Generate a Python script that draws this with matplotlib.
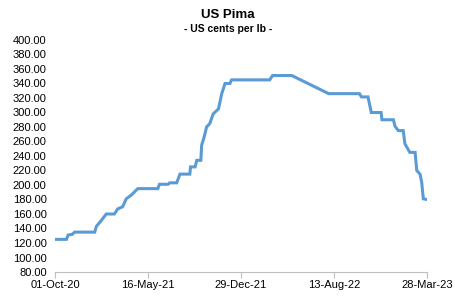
import matplotlib
matplotlib.use("Agg")
import matplotlib.pyplot as plt
import matplotlib.dates as mdates
import pandas as pd

plt.rcParams['font.family'] = ['Liberation Sans', 'DejaVu Sans']

dates = pd.to_datetime([
    "2020-10-01", "2020-10-29", "2020-11-02", "2020-11-12", "2020-11-18",
    "2021-01-06", "2021-01-10", "2021-01-22", "2021-02-03", "2021-02-23",
    "2021-03-03", "2021-03-15", "2021-03-24", "2021-04-05", "2021-04-21",
    "2021-06-09", "2021-06-13", "2021-07-04", "2021-07-08", "2021-07-25",
    "2021-08-02", "2021-08-26", "2021-08-28", "2021-09-08", "2021-09-12",
    "2021-09-22", "2021-09-24", "2021-09-30", "2021-10-06", "2021-10-14",
    "2021-10-22", "2021-11-04", "2021-11-12", "2021-11-20", "2021-12-02",
    "2021-12-06", "2022-03-09", "2022-03-16", "2022-05-02", "2022-07-31",
    "2022-10-14", "2022-10-19", "2022-11-04", "2022-11-12", "2022-12-06",
    "2022-12-08", "2023-01-05", "2023-01-09", "2023-01-17", "2023-01-29",
    "2023-02-02", "2023-02-14", "2023-02-27", "2023-03-03", "2023-03-11",
    "2023-03-15", "2023-03-19", "2023-03-28",
])
prices = [
    125, 125, 131, 132, 135,
    135, 143, 151, 160, 160,
    167, 170, 181, 186, 195,
    195, 201, 201, 203, 203,
    215, 215, 225, 225, 234,
    234, 255, 266, 280, 285,
    298, 305, 326, 340, 340,
    345, 345, 351, 351, 326,
    326, 321.5, 321.5, 300, 300,
    290, 290, 281, 275, 275,
    257, 245, 245, 220, 215,
    204, 181, 180,
]

y_ticks = list(range(80, 401, 20))
x_tick_dates = pd.to_datetime(["2020-10-01", "2021-05-16", "2021-12-29", "2022-08-13", "2023-03-28"])
x_tick_labels = ["01-Oct-20", "16-May-21", "29-Dec-21", "13-Aug-22", "28-Mar-23"]

fig = plt.figure(figsize=(4.55, 2.97), dpi=100)
ax = fig.add_axes([55/455, 25/297, 372/455, 232/297])

ax.plot(dates, prices, color="#5B9BD5", linewidth=2.2, solid_joinstyle="miter")

ax.set_xlim(dates[0], dates[-1])
ax.set_ylim(80, 400)
ax.set_yticks(y_ticks)
ax.set_yticklabels([f"{v:.2f}" for v in y_ticks], fontsize=8)
ax.set_xticks(x_tick_dates)
ax.set_xticklabels(x_tick_labels, fontsize=8)

for s in ["top", "right", "left"]:
    ax.spines[s].set_visible(False)
ax.spines["bottom"].set_color("#BFBFBF")
ax.spines["bottom"].set_linewidth(0.8)
ax.tick_params(axis="y", length=0, pad=6)
ax.tick_params(axis="x", length=4, color="#BFBFBF", direction="out", pad=2)

fig.text(228/455, 1 - 15/297, "US Pima", ha="center", va="center", fontsize=9.5, fontweight="bold")
fig.text(228/455, 1 - 29/297, "- US cents per lb -", ha="center", va="center", fontsize=7.5, fontweight="bold")

fig.savefig("out.png", dpi=100)
